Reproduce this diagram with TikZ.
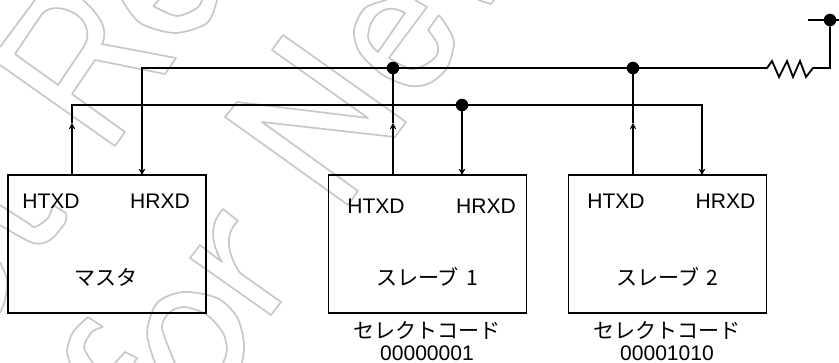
\documentclass[tikz,border=0pt]{standalone}
\usepackage{fontspec}
\setmainfont{Liberation Sans}
\newfontfamily\jp{Noto Sans CJK JP}
\usetikzlibrary{arrows.meta}
\definecolor{wm}{RGB}{200,200,200}
\tikzset{
  box/.style={draw=black,line width=1.35pt,minimum width=148.5pt,minimum height=103.5pt,inner sep=0pt,outer sep=0pt},
  wire/.style={draw=black,line width=1.35pt,line join=miter},
  arrowwire/.style={wire,-{Stealth[length=7pt,width=7.4pt,inset=4.6pt]}},
  junction/.style={circle,fill=black,inner sep=0pt,minimum size=9.4pt,outer sep=0pt},
  port/.style={font=\fontsize{15.8pt}{18pt}\selectfont,inner sep=0pt},
  jlabel/.style={font=\fontsize{15.8pt}{18pt}\selectfont\jp,inner sep=0pt},
  wmline/.style={draw=wm,line width=1.3pt,line join=round},
}
\begin{document}
\begin{tikzpicture}[x=0.75pt,y=-0.75pt]
\useasboundingbox (0,0) rectangle (839,363);
\begin{scope}
\clip (0,0) rectangle (839,363);
% watermark outlines
\draw[wmline] (0,47) -- (35,0);
\draw[wmline] (0,65) -- (115,146) -- (125,132) -- (72,94) -- (95,60) -- (165,74) -- (176,58) -- (102,44)
  .. controls (109,30) and (100,15) .. (83,0);
\draw[wmline] (15,54) -- (58,85) -- (83,48) .. controls (93,33) and (85,18) .. (72,12) .. controls (60,6) and (48,7) .. (42,14) -- cycle;
\draw[wmline] plot[smooth] coordinates {(122,0) (140,23) (175,33) (207,23) (217,0)};
\draw[wmline] (159,0) -- (153,6);
\draw[wmline] plot[smooth] coordinates {(153,6) (177,16) (197,8) (202,0)};
\draw[wmline] (348,205) -- (225,117) -- (237,102) -- (368,118) -- (272,50) -- (283,35) -- (406,122) -- (395,137) -- (262,122) -- (358,191) -- cycle;
\draw[wmline] plot[smooth] coordinates {(387,0) (365,8) (354,30) (360,53) (383,75) (410,86) (430,83) (447,68) (454,43) (448,28) (439,15)};
\draw[wmline] (439,15) -- (428,30);
\draw[wmline] plot[smooth] coordinates {(428,30) (437,43) (437,55) (425,65) (410,69) (389,58)};
\draw[wmline] (389,58) -- (427,7) -- (415,0);
\draw[wmline] (378,52) -- (405,13) .. controls (398,9) and (392,8) .. (387,9) .. controls (375,12) and (368,25) .. (368,37) .. controls (369,44) and (373,48) .. cycle;
\draw[wmline] (478,0) -- (491,4) -- (494,0);
\draw[wmline] plot[smooth] coordinates {(0,205) (28,223) (35,227) (48,218) (53,205)};
\draw[wmline] (53,205) -- (66,213);
\draw[wmline] plot[smooth] coordinates {(0,225) (33,243) (50,240) (65,223) (66,213)};
\draw[wmline] plot[smooth] coordinates {(0,262) (7,280) (5,300) (0,313)};
\draw[wmline] (103,327) -- (88,317);
\draw[wmline] plot[smooth] coordinates {(88,317) (73,332) (67,350) (70,363)};
\draw[wmline] plot[smooth] coordinates {(103,327) (92,332) (84,347) (93,363)};
\draw[wmline] (115,363) -- (125,352) -- (137,358) -- (134,363);
\draw[wmline] (223,209) -- (238,221) .. controls (226,232) and (225,250) .. (240,273) -- (281,302) -- (271,315) -- (190,258) -- (200,245) -- (222,262) .. controls (212,245) and (208,225) .. cycle;
\draw[wmline] plot[smooth] coordinates {(155,363) (147,333) (157,303) (183,292) (217,298) (237,317) (244,343) (242,363)};
\draw[wmline] plot[smooth] coordinates {(175,363) (162,328) (170,312) (185,307) (207,315) (223,333) (227,350) (223,363)};
\end{scope}

% boxes
\node[box] (master) at (107,244) {};
\node[box] (slaveA) at (427.5,244) {};
\node[box] (slaveB) at (667.5,244) {};

% box labels
\node[port] (mtx) at (51,201.5) {HTXD};
\node[port] (mrx) at (160,201.5) {HRXD};
\node[port] (atx) at (376,206) {HTXD};
\node[port] (arx) at (486,206) {HRXD};
\node[port] (btx) at (616,201.5) {HTXD};
\node[port] (brx) at (725.5,201.5) {HRXD};
\node[jlabel] (mname) at (106,277) {マスタ};
\node[jlabel] (aname) at (427,277) {スレーブ\hspace{0.12em} 1};
\node[jlabel] (bname) at (667.5,277) {スレーブ\hspace{0.12em} 2};
\node[jlabel] (acode) at (427,330) {セレクトコード};
\node[port] (aval) at (427,353.5) {00000001};
\node[jlabel] (bcode) at (667,330) {セレクトコード};
\node[port] (bval) at (667,353.5) {00001010};

% junctions
\node[junction] (ja) at (393,68) {};
\node[junction] (jb) at (633,68) {};
\node[junction] (jc) at (462,105) {};
\node[junction] (jd) at (830,20) {};

% ends on the boxes and bends
\coordinate (mtop1) at (72,175);
\coordinate (mtop2) at (142,175);
\coordinate (atop1) at (393,175);
\coordinate (atop2) at (462,175);
\coordinate (btop1) at (633,175);
\coordinate (btop2) at (702,175);
\coordinate (mup) at (72,123);
\coordinate (aup) at (393,123);
\coordinate (bup) at (633,123);
\coordinate (bendA) at (72,105);
\coordinate (bendB) at (702,105);
\coordinate (bendC) at (142,68);
\coordinate (stubL) at (808,20);
\coordinate (stubR) at (839,20);
\coordinate (rin) at (760,68);
\coordinate (rout) at (820,68);
\coordinate (corner) at (830,68);

% bus lines
\draw[wire] (mup) -- (bendA) -- (jc.center);
\draw[arrowwire] (jc.center) -- (bendB) -- (btop2);
\draw[arrowwire] (rin) -- (bendC) -- (mtop2);
\draw[arrowwire] (mtop1) -- (mup);
\draw[arrowwire] (atop1) -- (aup);
\draw[wire] (aup) -- (ja);
\draw[arrowwire] (btop1) -- (bup);
\draw[wire] (bup) -- (jb);
\draw[arrowwire] (jc) -- (atop2);
% resistor
\draw[wire] (rin) -- (767,68) -- (772,61) -- (779,77) -- (787,61) -- (793,77) -- (800,61) -- (806,77) -- (813,68) -- (rout) -- (corner) -- (jd);
\draw[wire] (stubL) -- (stubR);
\end{tikzpicture}
\end{document}
